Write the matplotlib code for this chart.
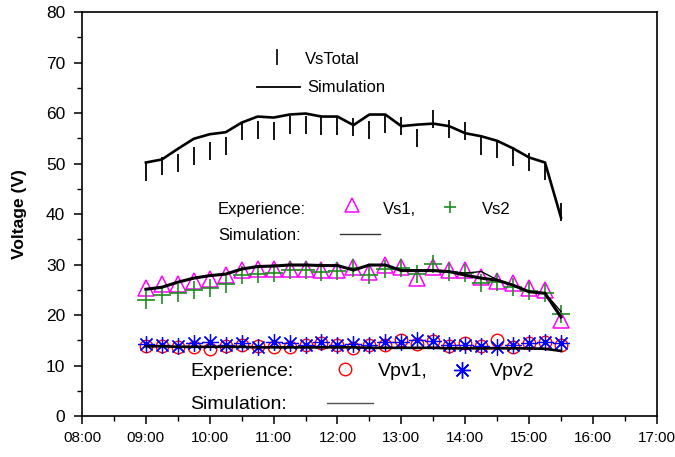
import matplotlib
matplotlib.use("Agg")
import matplotlib.pyplot as plt
from matplotlib.ticker import MultipleLocator, FixedLocator

plt.rcParams['font.family'] = ['Liberation Sans', 'DejaVu Sans']

# ---- data ----
times = ["09:00", "09:15", "09:30", "09:45", "10:00", "10:15", "10:30", "10:45",
         "11:00", "11:15", "11:30", "11:45", "12:00", "12:15", "12:30", "12:45",
         "13:00", "13:15", "13:30", "13:45", "14:00", "14:15", "14:30", "14:45",
         "15:00", "15:15", "15:30"]

vs_total_exp = [48.3, 49.5, 50.2, 51.4, 52.5, 53.4, 56.4, 56.6, 56.5, 57.7, 57.7, 57.5,
                57.4, 57.3, 56.6, 57.9, 57.5, 55.0, 58.9, 56.8, 56.5, 53.5, 52.8, 51.2,
                50.3, 48.5, 40.3]
vs_total_sim = [50.2, 50.8, 52.9, 54.9, 55.8, 56.2, 58.1, 59.3, 59.1, 59.7, 59.9, 59.3,
                59.3, 57.6, 59.7, 59.7, 57.4, 57.7, 57.9, 57.4, 56.0, 55.4, 54.5, 53.0,
                51.2, 50.2, 39.3]

vs1_exp = [25.4, 26.1, 26.1, 26.8, 27.1, 27.9, 28.9, 29.1, 29.1, 29.1, 29.2, 28.9,
           29.0, 29.6, 28.6, 29.9, 29.6, 27.3, 29.6, 28.9, 28.9, 27.5, 26.8, 26.3,
           25.3, 24.9, 19.0]
vs2_exp = [23.0, 24.0, 24.4, 24.9, 25.4, 26.1, 27.9, 28.1, 28.4, 28.9, 28.9, 28.6,
           28.7, 29.4, 27.9, 29.2, 29.4, 28.1, 30.1, 28.6, 28.4, 26.4, 26.5, 25.6,
           24.8, 24.3, 20.2]
vs1_sim = [25.1, 25.5, 26.5, 27.3, 27.8, 28.1, 29.1, 29.6, 29.7, 29.9, 29.9, 29.8,
           29.8, 28.9, 29.9, 29.9, 28.8, 28.8, 28.8, 28.6, 27.9, 27.3, 26.9, 25.9,
           24.6, 24.3, 19.6]
vs2_sim = [25.1, 25.5, 26.5, 27.3, 27.8, 28.1, 29.1, 29.6, 29.7, 29.9, 29.9, 29.8,
           29.8, 28.9, 29.9, 29.9, 28.8, 28.8, 28.8, 28.6, 28.3, 28.6, 27.0, 25.9,
           24.6, 24.3, 20.7]

vpv1_exp = [13.9, 13.9, 13.7, 13.6, 13.2, 13.9, 14.1, 13.9, 13.7, 13.6, 14.1, 14.5,
            14.1, 13.4, 14.1, 14.1, 15.0, 14.3, 14.9, 13.9, 14.4, 13.9, 15.0, 13.6,
            14.4, 14.7, 14.1]
vpv2_exp = [14.3, 14.1, 13.9, 14.4, 14.7, 14.1, 14.4, 13.6, 14.7, 14.4, 14.1, 14.7,
            14.1, 14.3, 14.1, 14.7, 14.7, 15.0, 14.9, 14.1, 14.1, 13.9, 13.6, 14.1,
            14.5, 14.7, 14.5]
vpv_sim = [13.8, 13.8, 13.7, 13.7, 13.7, 13.7, 13.7, 13.6, 13.6, 13.6, 13.6, 13.6,
           13.6, 13.6, 13.5, 13.5, 13.5, 13.5, 13.5, 13.4, 13.4, 13.4, 13.4, 13.4,
           13.4, 13.3, 12.9]

x_tick_labels = ["08:00", "09:00", "10:00", "11:00", "12:00", "13:00", "14:00",
                 "15:00", "16:00", "17:00"]


def to_hours(s):
    h, m = s.split(":")
    return int(h) + int(m) / 60.0


x = [to_hours(t) for t in times]
x_ticks = [to_hours(t) for t in x_tick_labels]

# ---- figure ----
fig = plt.figure(figsize=(6.75, 4.57), dpi=100)
ax = fig.add_axes([0.1215, 0.0897, 0.8515, 0.884])

star = (8, 2, 0)

# VsTotal
ax.plot(x, vs_total_sim, color='black', lw=1.9, zorder=3)
ax.plot(x, vs_total_exp, ls='none', marker='|', ms=13.5, mew=1.3, color='black', zorder=4)

# Vs1 / Vs2
ax.plot(x, vs1_exp, ls='none', marker='^', ms=11, mfc='none', mec='#FF00FF', mew=1.1, zorder=2)
ax.plot(x, vs2_exp, ls='none', marker='+', ms=12.5, mec='#1E8C1E', mew=1.2, zorder=2)
ax.plot(x, vs1_sim, color='black', lw=2.2, zorder=3)
ax.plot(x, vs2_sim, color='black', lw=1.0, zorder=3)

# Vpv1 / Vpv2
ax.plot(x, vpv1_exp, ls='none', marker='o', ms=9, mfc='none', mec='#FF0000', mew=1.0, zorder=2)
ax.plot(x, vpv2_exp, ls='none', marker=star, ms=12, mec='#0000FF', mfc='#0000FF', mew=0.9, zorder=2)
ax.plot(x, vpv_sim, color='black', lw=1.9, zorder=3)

# ---- in-plot legend texts ----
# top
ax.plot([11.05], [71.1], marker='|', ms=11, mew=1.2, color='black', ls='none')
ax.text(11.49, 70.6, "VsTotal", fontsize=12, va='center', ha='left')
ax.plot([10.74, 11.41], [65.1, 65.1], color='black', lw=1.3)
ax.text(11.52, 65.1, "Simulation", fontsize=12, va='center', ha='left')

# middle
ax.text(10.13, 40.9, "Experience:", fontsize=12, va='center', ha='left')
ax.plot([12.23], [41.8], marker='^', ms=9.5, mfc='none', mec='#FF00FF', mew=1.1, ls='none')
ax.text(12.71, 40.9, "Vs1,", fontsize=12, va='center', ha='left')
ax.plot([13.77], [41.4], marker='+', ms=9, mec='#1E8C1E', mew=1.2, ls='none')
ax.text(14.26, 40.9, "Vs2", fontsize=12, va='center', ha='left')
ax.text(10.13, 35.8, "Simulation:", fontsize=12, va='center', ha='left')
ax.plot([12.04, 12.66], [36.0, 36.0], color='#333333', lw=1.0)

# bottom
ax.text(9.69, 8.9, "Experience:", fontsize=14, va='center', ha='left')
ax.plot([12.12], [9.3], marker='o', ms=9, mfc='none', mec='#FF0000', mew=1.0, ls='none')
ax.text(12.63, 8.9, "Vpv1,", fontsize=14, va='center', ha='left')
ax.plot([13.95], [9.1], marker=star, ms=12, mec='#0000FF', mew=1.0, ls='none')
ax.text(14.38, 8.9, "Vpv2", fontsize=14, va='center', ha='left')
ax.text(9.69, 2.2, "Simulation:", fontsize=14, va='center', ha='left')
ax.plot([11.83, 12.55], [2.6, 2.6], color='#555555', lw=1.0)

# ---- axes ----
ax.set_xlim(8, 17)
ax.set_ylim(0, 80)
ax.xaxis.set_major_locator(FixedLocator(x_ticks))
ax.set_xticklabels(x_tick_labels)
ax.xaxis.set_minor_locator(MultipleLocator(0.5))
ax.yaxis.set_major_locator(MultipleLocator(10))
ax.yaxis.set_minor_locator(MultipleLocator(5))
ax.tick_params(axis='both', which='major', direction='out', length=6, width=1.1, labelsize=12.5)
ax.tick_params(axis='both', which='minor', direction='out', length=3.5, width=1.0)
ax.tick_params(axis='x', which='major', labelsize=11, pad=5)
ax.tick_params(axis='y', which='major', pad=6)
for sp in ax.spines.values():
    sp.set_linewidth(1.2)

ax.set_ylabel("Voltage (V)", fontsize=12.5, fontweight='bold')
ax.yaxis.set_label_coords(-0.095, 0.5)

fig.savefig("out.png", dpi=100)
